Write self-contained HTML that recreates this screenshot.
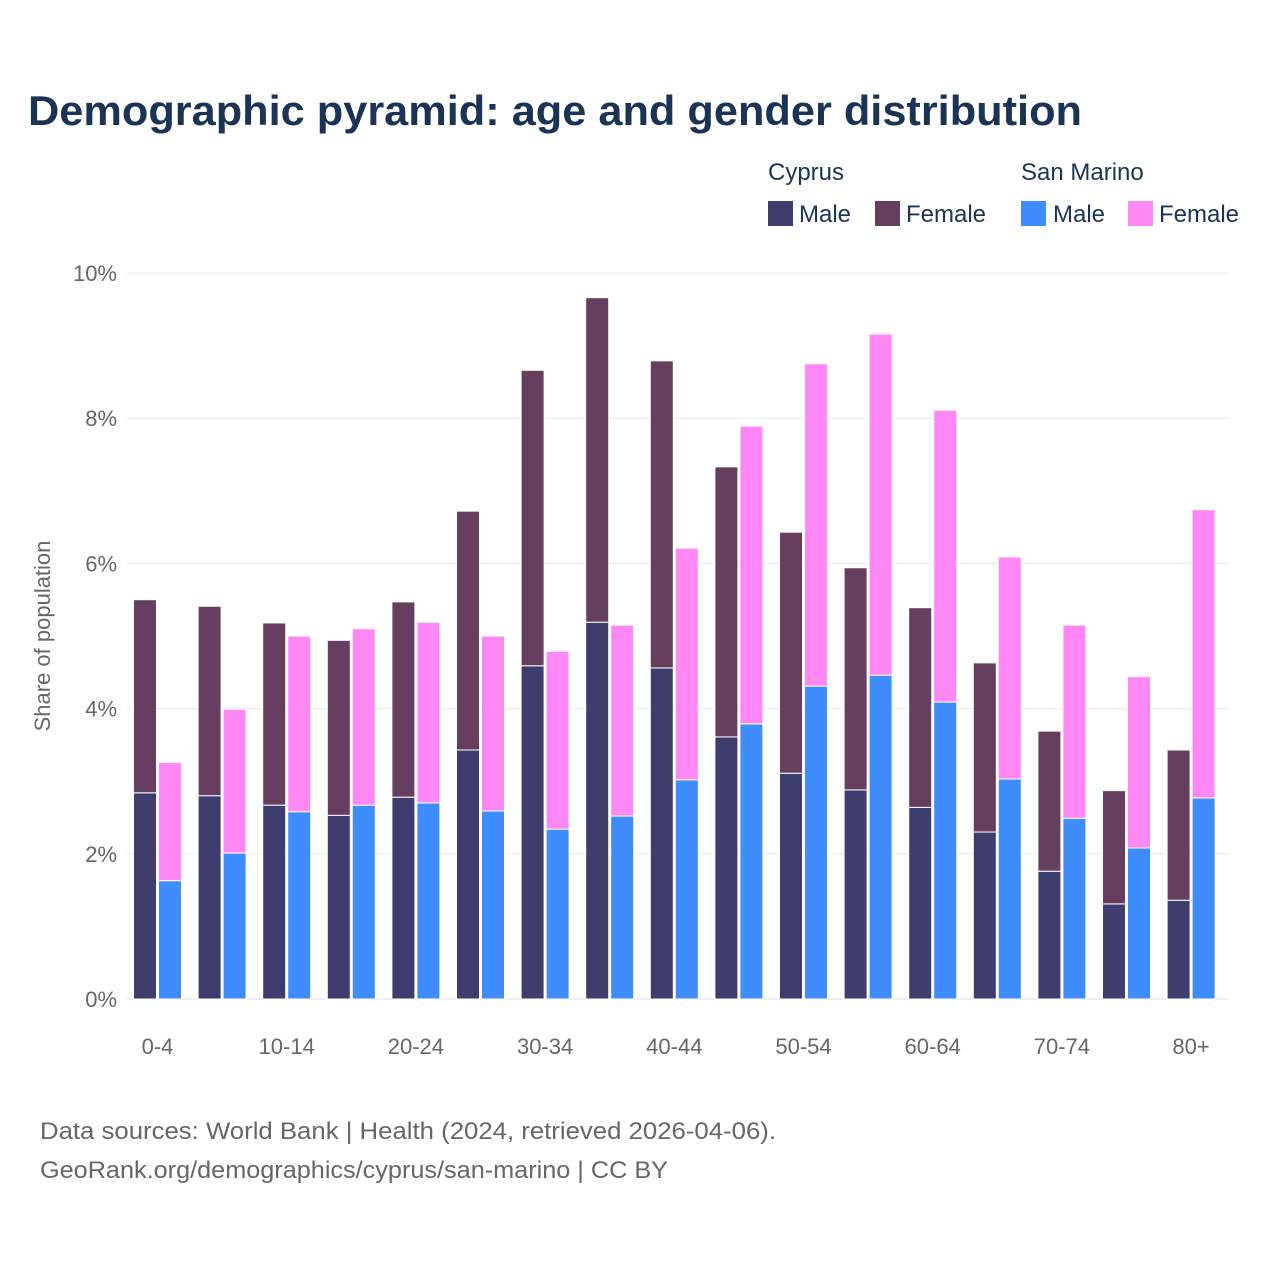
<!DOCTYPE html>
<html><head><meta charset="utf-8"><style>
body{margin:0;background:#fff;font-family:"Liberation Sans",sans-serif;}
svg text{font-family:"Liberation Sans",sans-serif;}
</style></head><body>
<svg width="1280" height="1280" viewBox="0 0 1280 1280">
<text x="28" y="125" font-size="42" font-weight="bold" fill="#1b3354" textLength="1054" lengthAdjust="spacingAndGlyphs">Demographic pyramid: age and gender distribution</text>
<g font-size="24" fill="#1b3354">
<text x="768" y="180" fill="#1b3354">Cyprus</text>
<text x="1021" y="180" fill="#1b3354">San Marino</text>
<rect x="768" y="201" width="25" height="25" fill="#3f3d6e"/><text x="799" y="222" fill="#1b3354">Male</text>
<rect x="875" y="201" width="25" height="25" fill="#663f60"/><text x="906" y="222" fill="#1b3354">Female</text>
<rect x="1021" y="201" width="25" height="25" fill="#3f8cff"/><text x="1053" y="222" fill="#1b3354">Male</text>
<rect x="1128" y="201" width="25" height="25" fill="#ff88f5"/><text x="1159" y="222" fill="#1b3354">Female</text>
</g>
<g id="grid"></g>
<g id="bars"></g>
<g id="xlabels"></g>
<text transform="translate(50,636) rotate(-90)" text-anchor="middle" font-size="22" fill="#666">Share of population</text>
<text x="40" y="1139" font-size="24" fill="#666" textLength="736" lengthAdjust="spacingAndGlyphs">Data sources: World Bank | Health (2024, retrieved 2026-04-06).</text>
<text x="40" y="1178" font-size="24" fill="#666" textLength="628" lengthAdjust="spacingAndGlyphs">GeoRank.org/demographics/cyprus/san-marino | CC BY</text>
</svg>
<script>
const categories=["0-4","5-9","10-14","15-19","20-24","25-29","30-34","35-39","40-44","45-49","50-54","55-59","60-64","65-69","70-74","75-79","80+"];
const cyMale=[2.84,2.80,2.67,2.53,2.78,3.43,4.59,5.19,4.56,3.61,3.11,2.88,2.64,2.30,1.76,1.31,1.36];
const cyFemale=[2.66,2.61,2.51,2.41,2.69,3.29,4.07,4.47,4.23,3.72,3.32,3.06,2.75,2.33,1.93,1.56,2.07];
const smMale=[1.63,2.01,2.58,2.67,2.70,2.59,2.34,2.52,3.02,3.79,4.31,4.46,4.09,3.03,2.49,2.08,2.77];
const smFemale=[1.63,1.98,2.42,2.43,2.49,2.41,2.45,2.63,3.19,4.10,4.44,4.70,4.02,3.06,2.66,2.36,3.97];
const yTicks=[0,2,4,6,8,10];
const NS='http://www.w3.org/2000/svg';
const y0=999,pxPer=72.6,x0=157.5,step=64.6,bw=23;
const Y=v=>y0-v*pxPer;
const X=i=>x0+i*step;
const grid=document.getElementById('grid'),bars=document.getElementById('bars'),xl=document.getElementById('xlabels');
function mk(tag,a,p){const e=document.createElementNS(NS,tag);for(const k in a)e.setAttribute(k,a[k]);p.appendChild(e);return e;}
yTicks.forEach(t=>{
 const l=mk('line',{x1:127,x2:1228,y1:Y(t),y2:Y(t),stroke:t==0?'#ddd':'#e8e8e8','stroke-width':1},grid);
 
 
 const tx=mk('text',{x:117,y:Y(t)+8,'text-anchor':'end','font-size':22,fill:'#666'},grid);
 tx.textContent=t+'%';
 
 
});
function bar(x,v0,v1,fill,name){
 const r=mk('rect',{x:x,y:Y(v1),width:bw,height:Y(v0)-Y(v1),fill:fill,stroke:'#fff','stroke-width':1},bars);
 
 
}
categories.forEach((c,i)=>{
 const cx=X(i);
 bar(cx-bw-1,0,cyMale[i],'#3f3d6e','bar-cyprus-male-'+c);
 bar(cx-bw-1,cyMale[i],cyMale[i]+cyFemale[i],'#663f60','bar-cyprus-female-'+c);
 bar(cx+1,0,smMale[i],'#3f8cff','bar-sanmarino-male-'+c);
 bar(cx+1,smMale[i],smMale[i]+smFemale[i],'#ff88f5','bar-sanmarino-female-'+c);
 if(i%2==0){
  const t=mk('text',{x:cx,y:1054,'text-anchor':'middle','font-size':22,fill:'#666'},xl);
  t.textContent=c;
  
  
 }
});
</script>
</body></html>
